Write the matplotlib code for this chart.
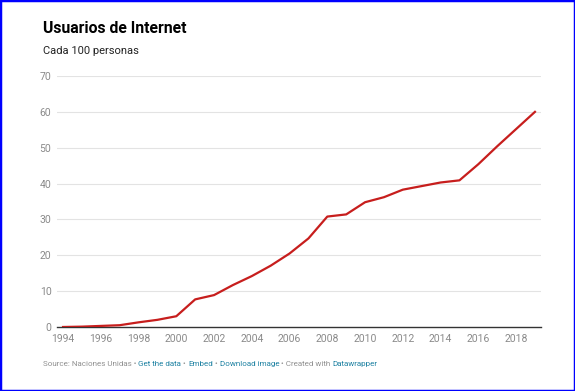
import matplotlib
matplotlib.use("Agg")
import matplotlib.pyplot as plt
from matplotlib.patches import Rectangle

years = list(range(1994, 2020))
users = [0.0, 0.1, 0.3, 0.5, 1.3, 2.0, 3.0, 7.7, 8.9, 11.7, 14.2, 17.1, 20.5,
         24.7, 30.8, 31.4, 34.8, 36.2, 38.3, 39.3, 40.3, 40.9, 45.4, 50.4, 55.2, 60.0]
xticks = list(range(1994, 2020, 2))
yticks = [0, 10, 20, 30, 40, 50, 60, 70]

title = "Usuarios de Internet"
subtitle = "Cada 100 personas"
footer = [("Source: Naciones Unidas • ", "#909090"), ("Get the data", "#1d81a2"),
          (" • ", "#909090"), ("Embed", "#1d81a2"), (" • ", "#909090"),
          ("Download image", "#1d81a2"), (" • Created with ", "#909090"),
          ("Datawrapper", "#1d81a2")]

plt.rcParams['font.family'] = ['Roboto', 'DejaVu Sans']

W, H = 575, 391
fig = plt.figure(figsize=(W / 100, H / 100), dpi=100)
ax = fig.add_axes([57 / W, 1 - 327 / H, (541 - 57) / W, (327 - 76) / H])

ax.plot(years, users, color="#c71e1d", lw=1.6, solid_joinstyle="round", zorder=3)
ax.set_xlim(1993.68, 2019.32)
ax.set_ylim(0, 70)
ax.set_xticks(xticks)
ax.set_yticks(yticks)
ax.tick_params(axis="both", length=0, labelsize=7.5, labelcolor="#8a8a8a")
ax.tick_params(axis="y", pad=4)
ax.tick_params(axis="x", pad=5)
for s in ax.spines.values():
    s.set_visible(False)
for y in yticks[1:]:
    ax.axhline(y, color="#e3e3e3", lw=0.8, zorder=1)
ax.axhline(0, color="#333333", lw=1.0, zorder=2, clip_on=False)

fig.text(43 / W, 1 - 33 / H, title, fontsize=11.3, fontweight="bold", color="#000000",
         va="baseline", ha="left")
fig.text(43 / W, 1 - 54 / H, subtitle, fontsize=8, color="#222222",
         va="baseline", ha="left")

renderer = fig.canvas.get_renderer()
x = 43
for txt, col in footer:
    t = fig.text(x / W, 1 - 366 / H, txt, fontsize=5.75, color=col, va="baseline", ha="left")
    bb = t.get_window_extent(renderer=renderer)
    x += bb.width

fig.patches.append(Rectangle((0, 0), 1, 1, transform=fig.transFigure, fill=False,
                             edgecolor="#0000ff", lw=2.5))

fig.savefig("out.png", dpi=100)
